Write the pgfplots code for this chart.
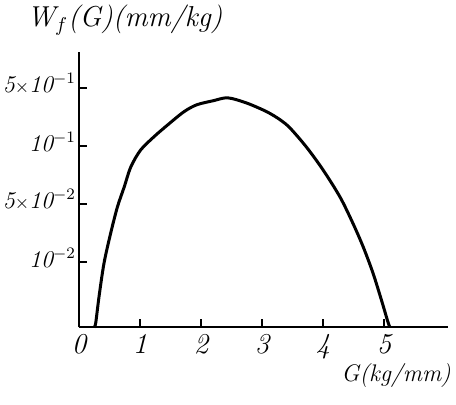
\documentclass[border=0pt]{standalone}
\usepackage{pgfplots}
\pgfplotsset{compat=1.18}
\begin{document}
\begin{tikzpicture}
\begin{axis}[
  name=ax,
  scale only axis,
  width=184.5pt, height=137.5pt,
  xmin=0, xmax=6.05,
  ymin=-0.12, ymax=4.62,
  axis lines=left,
  axis line style={-, line width=1.2pt},
  tick align=inside,
  major tick length=4pt,
  tick style={line width=1pt, black},
  xtick={0,1,2,3,4,5},
  xticklabels={0,1,2,3,4,5},
  xticklabel style={font=\Large\itshape},
  ytick={1,2,3,4},
  % hand-drawn axis: the four marks are equally spaced
  yticklabels={{10$^{-2}$},{5{\small$\times$}10$^{-2}$},{10$^{-1}$},{5{\small$\times$}10$^{-1}$}},
  yticklabel style={font=\large\itshape, xshift=2pt, yshift=2pt},
  clip=false,
]
\addplot[black, line width=1.5pt, smooth, tension=0.5, mark=none] coordinates {
  (0.25,-0.12) (0.274,-0.05) (0.328,0.40) (0.41,0.98) (0.52,1.50)
  (0.63,1.95) (0.74,2.29) (0.85,2.64) (1.01,2.93) (1.23,3.16)
  (1.45,3.36) (1.72,3.59) (1.93,3.71) (2.20,3.78) (2.44,3.83)
  (2.75,3.74) (3.08,3.59) (3.30,3.45) (3.46,3.31) (3.73,2.98)
  (4.00,2.59) (4.28,2.12) (4.49,1.67) (4.66,1.26) (4.82,0.81)
  (4.96,0.34) (5.07,-0.05) (5.10,-0.12)
};
\node[font=\Large\itshape] at (axis cs:0.75,5.17) {W$_f$(G)(mm/kg)};
\node[font=\large\itshape] at (axis cs:5.2,-0.95) {G(kg/mm)};
\end{axis}
\pgfresetboundingbox
\path ([shift={(-39.5pt,-38.5pt)}]ax.south west) rectangle ([shift={(188.5pt,163.5pt)}]ax.south west);
\end{tikzpicture}
\end{document}
